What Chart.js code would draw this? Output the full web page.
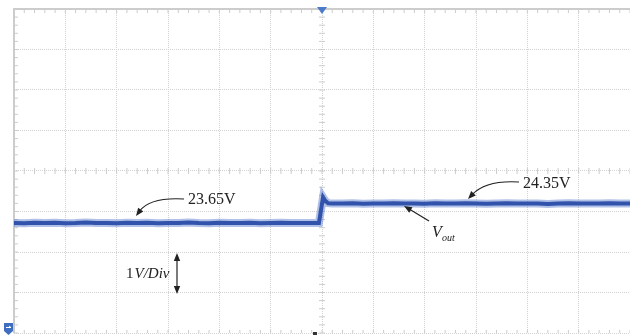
<!DOCTYPE html>
<html>
<head>
<meta charset="utf-8">
<script src="https://cdn.jsdelivr.net/npm/chart.js@4.4.0/dist/chart.umd.min.js"></script>
<style>
html, body { margin: 0; padding: 0; background: #fff; }
#wrap { width: 630px; height: 335px; }
</style>
</head>
<body>
<div id="wrap"><canvas id="scope" width="630" height="335"></canvas></div>
<script>
// Screen: 12 x 8 divisions. Time in divisions, Vout in volts.
var xMin = -6, xMax = 6;
var yMin = 19.70, yMax = 31.33;
var yDiv = (yMax - yMin) / 8;
var vLow = 23.65, vHigh = 24.35;

// Vout before the load step
var timeBefore = [-6.0, -5.8, -5.6, -5.4, -5.2, -5.0, -4.8, -4.6, -4.4, -4.2,
                  -4.0, -3.8, -3.6, -3.4, -3.2, -3.0, -2.8, -2.6, -2.4, -2.2,
                  -2.0, -1.8, -1.6, -1.4, -1.2, -1.0, -0.8, -0.6, -0.4, -0.2];
var voutBefore = [23.65, 23.64, 23.66, 23.65, 23.66, 23.64, 23.65, 23.67, 23.65, 23.65,
                  23.64, 23.66, 23.65, 23.66, 23.64, 23.65, 23.65, 23.67, 23.65, 23.64,
                  23.66, 23.65, 23.65, 23.66, 23.64, 23.65, 23.66, 23.65, 23.65, 23.65];
// the step edge and its small overshoot
var timeEdge = [-0.06, 0.02, 0.06, 0.12];
var voutEdge = [23.65, 24.57, 24.45, 24.36];
// Vout after the step
var timeAfter = [0.2, 0.4, 0.6, 0.8, 1.0, 1.2, 1.4, 1.6, 1.8, 2.0,
                 2.2, 2.4, 2.6, 2.8, 3.0, 3.2, 3.4, 3.6, 3.8, 4.0,
                 4.2, 4.4, 4.6, 4.8, 5.0, 5.2, 5.4, 5.6, 5.8, 6.0];
var voutAfter = [24.35, 24.35, 24.36, 24.34, 24.35, 24.35, 24.36, 24.35, 24.35, 24.34,
                 24.36, 24.35, 24.35, 24.36, 24.35, 24.34, 24.35, 24.36, 24.35, 24.35,
                 24.35, 24.33, 24.35, 24.36, 24.35, 24.35, 24.35, 24.36, 24.35, 24.35];

var times = timeBefore.concat(timeEdge, timeAfter);
var vout = voutBefore.concat(voutEdge, voutAfter);
var points = times.map(function (t, i) { return { x: t, y: vout[i] }; });

var gridGray = '#d2d2d2';
var frameGray = '#cccccc';
var traceBlue = '#3153ab';
var traceHaze = 'rgba(80, 115, 200, 0.45)';

function arrowHead(ctx, x, y, ang) {
    var len = 8, half = 3.2;
    ctx.beginPath();
    ctx.moveTo(x, y);
    ctx.lineTo(x - len * Math.cos(ang) + half * Math.sin(ang), y - len * Math.sin(ang) - half * Math.cos(ang));
    ctx.lineTo(x - len * Math.cos(ang) - half * Math.sin(ang), y - len * Math.sin(ang) + half * Math.cos(ang));
    ctx.closePath();
    ctx.fill();
}

function curvedArrow(ctx, x0, y0, cx, cy, x1, y1) {
    var ang = Math.atan2(y1 - cy, x1 - cx);
    ctx.beginPath();
    ctx.moveTo(x0, y0);
    ctx.quadraticCurveTo(cx, cy, x1 - 6 * Math.cos(ang), y1 - 6 * Math.sin(ang));
    ctx.stroke();
    arrowHead(ctx, x1, y1, ang);
}

var scopeFrame = {
    id: 'scopeFrame',
    beforeDatasetsDraw: function (chart) {
        var ctx = chart.ctx, a = chart.chartArea;
        var xs = chart.scales.x, ys = chart.scales.y;
        var cx = xs.getPixelForValue(0);
        var cy = ys.getPixelForValue(yMin + 4 * yDiv);
        ctx.save();
        // solid frame on top and left
        ctx.strokeStyle = frameGray;
        ctx.lineWidth = 2;
        ctx.beginPath();
        ctx.moveTo(a.left, a.bottom);
        ctx.lineTo(a.left, a.top);
        ctx.lineTo(a.right, a.top);
        ctx.stroke();
        // minor ticks, five per division
        ctx.lineWidth = 1;
        ctx.beginPath();
        for (var i = 0; i <= 60; i++) {
            var px = xs.getPixelForValue(xMin + i * 0.2);
            ctx.moveTo(px, a.top); ctx.lineTo(px, a.top + 4);
            ctx.moveTo(px, cy - 3); ctx.lineTo(px, cy + 3);
            ctx.moveTo(px, a.bottom); ctx.lineTo(px, a.bottom - 3);
        }
        for (var j = 0; j <= 40; j++) {
            var py = ys.getPixelForValue(yMin + j * yDiv / 5);
            ctx.moveTo(a.left, py); ctx.lineTo(a.left + 4, py);
            ctx.moveTo(cx - 3, py); ctx.lineTo(cx + 3, py);
        }
        ctx.stroke();
        ctx.restore();
    },
    afterDraw: function (chart) {
        var ctx = chart.ctx, a = chart.chartArea;
        var cx = chart.scales.x.getPixelForValue(0);
        ctx.save();

        // trigger position marker
        ctx.fillStyle = '#4a7bc8';
        ctx.beginPath();
        ctx.moveTo(cx - 5, a.top - 2);
        ctx.lineTo(cx + 5, a.top - 2);
        ctx.lineTo(cx, a.top + 5);
        ctx.closePath();
        ctx.fill();

        // channel ground marker
        ctx.fillStyle = '#3f6dbf';
        ctx.beginPath();
        ctx.moveTo(4, 323);
        ctx.lineTo(13, 323);
        ctx.lineTo(13, 331);
        ctx.lineTo(8.5, 335);
        ctx.lineTo(4, 331);
        ctx.closePath();
        ctx.fill();
        ctx.strokeStyle = '#fff';
        ctx.lineWidth = 1;
        ctx.beginPath();
        ctx.moveTo(6, 327.5); ctx.lineTo(11, 327.5);
        ctx.moveTo(9, 326); ctx.lineTo(11, 327.5);
        ctx.stroke();

        // trigger level mark on the bottom edge
        ctx.fillStyle = '#333';
        ctx.fillRect(313, 332, 4, 3);

        // annotations
        ctx.strokeStyle = '#222';
        ctx.fillStyle = '#222';
        ctx.lineWidth = 1.2;
        curvedArrow(ctx, 184, 199, 150, 197, 136, 216);
        curvedArrow(ctx, 519, 182, 486, 180, 468, 199);

        // Vout pointer
        var ang = Math.atan2(206 - 221, 404 - 429);
        ctx.beginPath();
        ctx.moveTo(429, 221);
        ctx.lineTo(404 - 6 * Math.cos(ang), 206 - 6 * Math.sin(ang));
        ctx.stroke();
        arrowHead(ctx, 404, 206, ang);

        // 1V/Div span
        ctx.beginPath();
        ctx.moveTo(177, 259); ctx.lineTo(177, 288);
        ctx.stroke();
        arrowHead(ctx, 177, 253, -Math.PI / 2);
        arrowHead(ctx, 177, 294, Math.PI / 2);

        ctx.textBaseline = 'alphabetic';
        ctx.textAlign = 'left';
        ctx.font = '16px "Liberation Serif"';
        ctx.fillText(vLow.toFixed(2) + 'V', 188, 204);
        ctx.fillText(vHigh.toFixed(2) + 'V', 523, 188);

        ctx.font = 'italic 16px "Liberation Serif"';
        ctx.fillText('V', 432, 237);
        ctx.font = 'italic 10px "Liberation Serif"';
        ctx.fillText('out', 442, 241);

        ctx.font = '15px "Liberation Serif"';
        ctx.fillText('1', 126, 278);
        var w1 = ctx.measureText('1').width;
        ctx.font = 'italic 15px "Liberation Serif"';
        ctx.fillText('V/Div', 126 + w1 + 1, 278);

        ctx.restore();
    }
};

new Chart(document.getElementById('scope'), {
    type: 'line',
    data: {
        datasets: [{
            label: 'Vout',
            data: points,
            borderColor: traceBlue,
            borderWidth: 4,
            pointRadius: 0,
            tension: 0,
            fill: false
        }, {
            label: 'Vout persistence',
            data: points,
            borderColor: traceHaze,
            borderWidth: 8,
            pointRadius: 0,
            tension: 0,
            fill: false
        }]
    },
    options: {
        responsive: false,
        animation: false,
        layout: { padding: { left: 14, top: 9, right: 0, bottom: 2 } },
        plugins: {
            legend: { display: false },
            tooltip: { enabled: false }
        },
        scales: {
            x: {
                type: 'linear',
                min: xMin,
                max: xMax,
                ticks: { display: false, stepSize: 1 },
                grid: { color: gridGray, lineWidth: 1, drawTicks: false },
                border: { display: false, dash: [1, 1] }
            },
            y: {
                type: 'linear',
                min: yMin,
                max: yMax,
                afterBuildTicks: function (scale) {
                    var t = [];
                    for (var k = 0; k <= 8; k++) t.push({ value: yMin + k * yDiv });
                    scale.ticks = t;
                },
                ticks: { display: false },
                grid: { color: gridGray, lineWidth: 1, drawTicks: false },
                border: { display: false, dash: [1, 1] }
            }
        }
    },
    plugins: [scopeFrame]
});
</script>
</body>
</html>
